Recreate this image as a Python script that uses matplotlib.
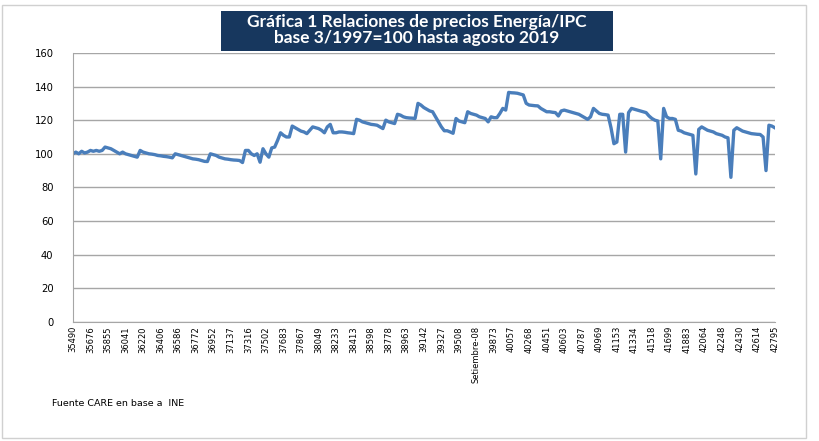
import matplotlib.pyplot as plt
from matplotlib.patches import Rectangle

# monthly index, base 3/1997 = 100
values = [
    100, 101, 100, 101.5, 100.5, 101, 102, 101.5, 102, 101.5, 102, 104,
    103.5, 103, 102, 101, 100, 101, 100, 99.5, 99, 98.5, 98, 102,
    101, 100.5, 100, 99.8, 99.5, 99, 98.8, 98.5, 98.3, 98, 97.6, 100,
    99.5, 99, 98.5, 98, 97.5, 97, 96.8, 96.5, 96, 95.5, 95.4, 100,
    99.5, 99, 98, 97.5, 97, 96.8, 96.5, 96.3, 96.2, 96, 94.8, 102,
    102, 100, 99, 100, 95, 103, 100, 98, 103.5, 104, 108, 112.5,
    111, 110, 110, 116.5, 115.5, 114.5, 113.5, 113, 112, 114, 116, 115.5,
    115, 114, 112.5, 116, 117.5, 112.5, 112.5, 113, 113, 112.8, 112.5, 112.3,
    112, 120.5, 120, 119, 118.5, 118, 117.5, 117.3, 117, 116, 115, 120,
    119, 118.5, 118, 123.5, 123, 122, 121.5, 121.3, 121.2, 121, 130, 129,
    127.5, 126.5, 125.5, 125, 122, 119, 116, 113.7, 113.7, 113, 112.2, 121,
    119.5, 119, 118.5, 125, 124, 123.5, 123, 122, 121.5, 121, 119, 122,
    121.5, 121.5, 124, 127, 126, 136.5, 136.3, 136.2, 136, 135.5, 135, 130,
    129, 128.8, 128.6, 128.5, 127, 126, 125, 125, 124.7, 124.5, 122.5, 125.5,
    126, 125.5, 125, 124.5, 124, 123.5, 122.5, 121.5, 120.5, 122, 127, 125.5,
    124, 123.5, 123.3, 123, 115.5, 106, 107, 123.5, 123.5, 101, 124.5, 127,
    126.5, 126, 125.5, 125, 124.5, 122.5, 121, 120, 119.5, 97, 127, 122,
    121, 121, 120.5, 114, 113.5, 112.5, 112, 111.5, 111, 88, 114.5, 116,
    115, 114, 113.5, 113, 112, 111.5, 111, 110, 109.5, 86, 114, 115.5,
    114.5, 113.5, 113, 112.5, 112, 111.8, 111.6, 111.5, 110, 90, 117, 116.5, 115.5,
]

tick_labels = [
    "35490", "35676", "35855", "36041", "36220", "36406", "36586", "36772",
    "36952", "37137", "37316", "37502", "37683", "37867", "38049", "38233",
    "38413", "38598", "38778", "38963", "39142", "39327", "39508",
    "Setiembre-08", "39873", "40057", "40268", "40451", "40603", "40787",
    "40969", "41153", "41334", "41518", "41699", "41883", "42064", "42248",
    "42430", "42614", "42795",
]
label_step = 6

title = "Gráfica 1 Relaciones de precios Energía/IPC\nbase 3/1997=100 hasta agosto 2019"
source = "Fuente CARE en base a  INE"

fig = plt.figure(figsize=(8.19, 4.41), dpi=100)
ax = fig.add_axes([0.089, 0.270, 0.857, 0.610])

ax.plot(range(len(values)), values, color="#4A7EBB", lw=2.4, solid_joinstyle="round")

ax.set_xlim(0, len(values) - 1)
ax.set_ylim(0, 160)
ax.set_yticks(range(0, 161, 20))
ax.set_xticks(range(0, len(values), label_step))
ax.set_xticklabels(tick_labels, rotation=90, fontsize=6, family="Liberation Sans Narrow")
ax.tick_params(axis="y", labelsize=7.2, length=0, pad=14)
ax.tick_params(axis="x", length=0, pad=3)
ax.grid(axis="y", color="#A6A6A6", lw=1)
ax.set_axisbelow(True)
for side in ("top", "right"):
    ax.spines[side].set_visible(False)
for side in ("left", "bottom"):
    ax.spines[side].set_color("#A6A6A6")

# light outer frame of the chart area
fig.patches.append(Rectangle((2 / 819, 3 / 441), 804 / 819, 433 / 441,
                             transform=fig.transFigure, facecolor="none",
                             edgecolor="#D0D0D0", lw=1, zorder=1))
fig.patches.append(Rectangle((221 / 819, 1 - 51 / 441), (613 - 221) / 819, 40 / 441,
                             transform=fig.transFigure, facecolor="#17375E",
                             edgecolor="none", zorder=3))
fig.text(417 / 819, 1 - 30 / 441, title, ha="center", va="center", color="white",
         fontsize=12.5, fontweight="bold", family="Lato", linespacing=1.0, zorder=4)
fig.text(52 / 819, 1 - 403 / 441, source, fontsize=6.8, va="center")

fig.savefig("out.png", dpi=100)
